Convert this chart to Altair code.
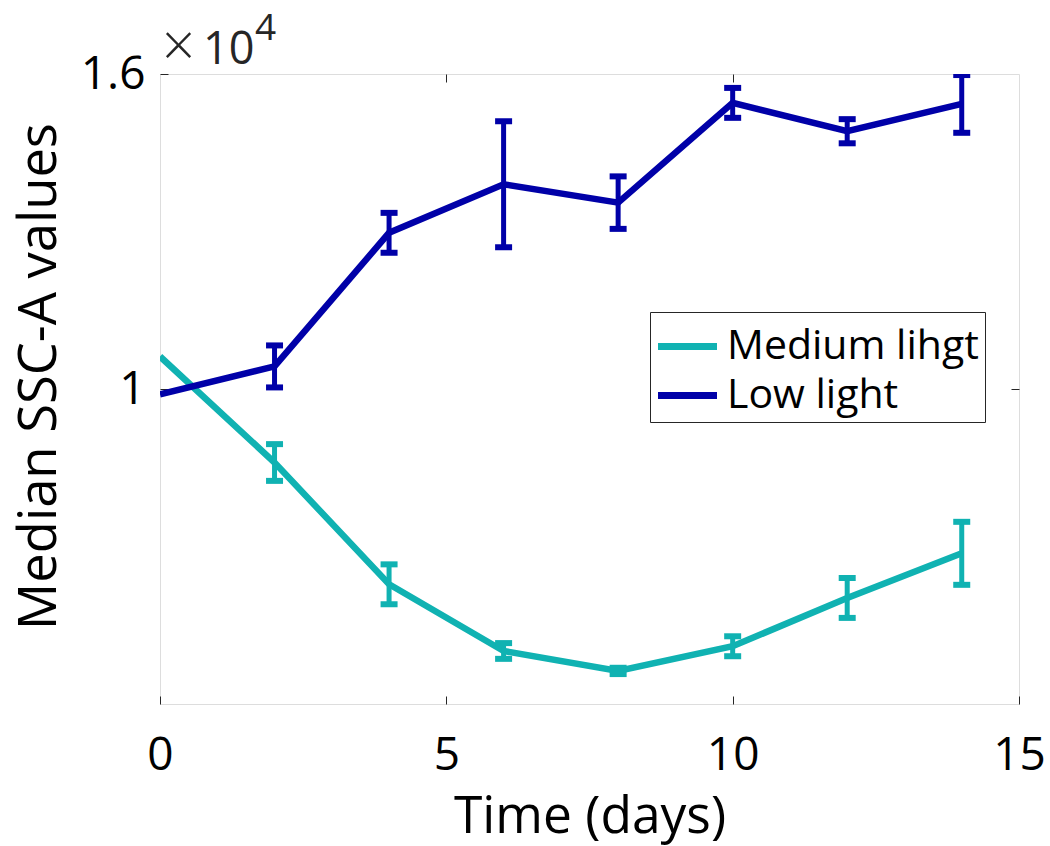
import altair as alt
import pandas as pd

# ---- data ----
days = [0, 2, 4, 6, 8, 10, 12, 14]
medium_values = [10620, 8600, 6280, 5010, 4630, 5100, 6020, 6870]
medium_errors = [0, 350, 380, 150, 60, 190, 380, 600]
low_values = [9900, 10430, 12975, 13900, 13550, 15450, 14910, 15430]
low_errors = [0, 400, 380, 1200, 500, 285, 230, 550]
series_names = ["Medium lihgt", "Low light"]
series_colors = ["#10B2B2", "#0000A8"]
x_ticks = [0, 5, 10, 15]
y_ticks = [10000, 16000]
exponent_times = ["×"]
exponent_base = ["10"]
exponent_power = ["4"]

rows = []
for name, vals, errs in [(series_names[0], medium_values, medium_errors),
                         (series_names[1], low_values, low_errors)]:
    for d, v, e in zip(days, vals, errs):
        rows.append({"day": d, "value": v, "lo": v - e, "hi": v + e, "err": e, "series": name})
df = pd.DataFrame(rows)

FONT = "Open Sans"
AX = "#262626"
x_scale = alt.Scale(domain=[0, 15], nice=False, zero=False)
y_scale = alt.Scale(domain=[4000, 16000], nice=False, zero=False)

legend = alt.Legend(
    title=None, orient="none", legendX=490, legendY=238,
    symbolType="M-1.18,0L1.18,0", symbolStrokeWidth=7, symbolSize=2500, symbolOffset=3,
    labelFontSize=41, labelFont=FONT, labelColor="black", labelLimit=0,
    strokeColor=AX, fillColor="white", padding=6, rowPadding=0, labelOffset=11,
)
color = alt.Color("series:N", scale=alt.Scale(domain=series_names, range=series_colors), legend=legend)

base = alt.Chart(df)

lines = base.mark_line(strokeWidth=6.5, clip=True).encode(
    x=alt.X("day:Q", scale=x_scale,
            axis=alt.Axis(orient="bottom", values=x_ticks, title="Time (days)", offset=-8,
                          tickSize=8, tickColor=AX, labelPadding=65, labelBaseline="alphabetic",
                          domain=False, grid=False,
                          labelFont=FONT, labelFontSize=46, labelColor="black",
                          titleFont=FONT, titleFontSize=51.5, titleColor="black", titleFontWeight="normal",
                          titleBaseline="alphabetic", titleY=136, labelFlush=False)),
    y=alt.Y("value:Q", scale=y_scale,
            axis=alt.Axis(orient="left", values=y_ticks, labelExpr="datum.value/10000",
                          title="Median SSC-A values", offset=-8, tickSize=8, tickColor=AX,
                          labelPadding=15, domain=False, grid=False,
                          labelFont=FONT, labelFontSize=46, labelColor="black",
                          titleFont=FONT, titleFontSize=52.5, titleColor="black", titleFontWeight="normal",
                          titleBaseline="alphabetic", titleX=-113, titleY=302, titleAngle=-90,
                          labelFlush=False)),
    color=color,
)

errs = base.transform_filter("datum.err > 0")

rules = errs.mark_rule(strokeWidth=5, clip=True).encode(
    x=alt.X("day:Q", scale=x_scale,
            axis=alt.Axis(orient="top", values=[5, 10], labels=False, title=None, offset=-8,
                          tickSize=8, tickColor=AX, domain=False, grid=False)),
    y=alt.Y("lo:Q", scale=y_scale,
            axis=alt.Axis(orient="right", values=[10000], labels=False, title=None, offset=-8,
                          tickSize=8, tickColor=AX, domain=False, grid=False)),
    y2="hi:Q",
    color=color,
)

caps = errs.transform_fold(["lo", "hi"], as_=["bound", "bval"]).mark_tick(
    orient="horizontal", size=17, thickness=6, opacity=1, clip=True
).encode(
    x=alt.X("day:Q", scale=x_scale, axis=None),
    y=alt.Y("bval:Q", scale=y_scale, axis=None),
    color=color,
)

exp0 = alt.Chart(pd.DataFrame({"t": exponent_times})).mark_text(
    font=FONT, fontSize=58, fontWeight=300, align="left", baseline="alphabetic", color=AX
).encode(x=alt.value(2), y=alt.value(-8), text="t:N")

exp1 = alt.Chart(pd.DataFrame({"t": exponent_base})).mark_text(
    font=FONT, fontSize=45, align="left", baseline="alphabetic", color=AX
).encode(x=alt.value(43), y=alt.value(-10), text="t:N")

exp2 = alt.Chart(pd.DataFrame({"t": exponent_power})).mark_text(
    font=FONT, fontSize=37, align="left", baseline="alphabetic", color=AX
).encode(x=alt.value(95), y=alt.value(-34), text="t:N")

chart = alt.layer(lines, rules, caps, exp0, exp1, exp2).properties(
    width=859, height=630,
    autosize=alt.AutoSizeParams(type="none"),
    padding={"left": 160, "top": 74, "right": 31, "bottom": 142},
).configure_view(stroke=AX, strokeWidth=1.5).configure(background="white")

chart.save("out.html", embed_options={"renderer": "svg", "actions": False})
